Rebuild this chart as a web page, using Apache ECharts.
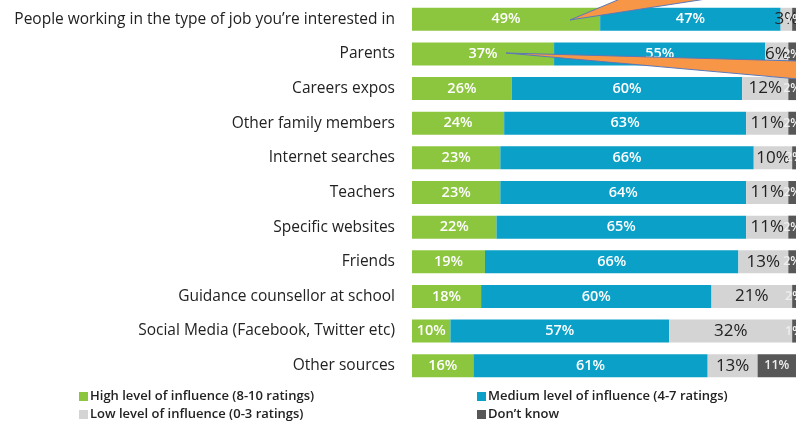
<!DOCTYPE html>
<html>
<head>
<meta charset="utf-8">
<script src="https://cdn.jsdelivr.net/npm/echarts@6/dist/echarts.min.js"></script>
<style>
  html, body { margin: 0; padding: 0; background: #fff; }
  #chart { width: 796px; height: 422px; }
</style>
</head>
<body>
<div id="chart"></div>
<script>
// Sources of influence on career choices, top row first
const categories = [
  'People working in the type of job you\u2019re interested in',
  'Parents',
  'Careers expos',
  'Other family members',
  'Internet searches',
  'Teachers',
  'Specific websites',
  'Friends',
  'Guidance counsellor at school',
  'Social Media (Facebook, Twitter etc)',
  'Other sources'
];

const seriesNames = [
  'High level of influence (8-10 ratings)',
  'Medium level of influence (4-7 ratings)',
  'Low level of influence (0-3 ratings)',
  'Don\u2019t know'
];

// Percentages per category, same order as categories
const highInfluence   = [49, 37, 26, 24, 23, 23, 22, 19, 18, 10, 16];
const mediumInfluence = [47, 55, 60, 63, 66, 64, 65, 66, 60, 57, 61];
const lowInfluence    = [3, 6, 12, 11, 10, 11, 11, 13, 21, 32, 13];
const dontKnow        = [1, 2, 2, 2, 2, 2, 2, 2, 2, 1, 11];

const FONT = '"Open Sans", "Noto Sans", sans-serif';

const chart = echarts.init(document.getElementById('chart'));

function stackSeries(name, data, color, label) {
  return {
    name: name,
    type: 'bar',
    stack: 'total',
    barWidth: 23,
    data: data,
    itemStyle: { color: color },
    label: Object.assign({
      show: true,
      position: 'inside',
      formatter: p => p.value + '%',
      fontFamily: FONT
    }, label),
    emphasis: { disabled: true },
    animation: false
  };
}

// One legend block per entry, laid out as a 2 x 2 grid
function legendItem(name, left, top) {
  return {
    data: [name],
    left: left,
    top: top,
    itemWidth: 9,
    itemHeight: 9,
    icon: 'rect',
    selectedMode: false,
    textStyle: { color: '#222', fontSize: 13, fontWeight: 600, fontFamily: FONT, padding: [0, 0, 0, -3] }
  };
}

chart.setOption({
  animation: false,
  grid: { left: 412, top: 2, width: 386, height: 381, containLabel: false },
  xAxis: {
    type: 'value',
    min: 0,
    max: 100,
    show: false
  },
  yAxis: {
    type: 'category',
    data: categories,
    inverse: true,
    axisLine: { show: false },
    axisTick: { show: false },
    axisLabel: {
      margin: 17,
      color: '#222',
      fontSize: 15.5,
      fontFamily: FONT
    }
  },
  legend: [
    legendItem(seriesNames[0], 74, 385),
    legendItem(seriesNames[2], 74, 403),
    legendItem(seriesNames[1], 472, 385),
    legendItem(seriesNames[3], 472, 403)
  ],
  series: [
    stackSeries(seriesNames[0], highInfluence, '#8cc63f',
      { color: '#fff', fontSize: 14.5, fontWeight: 600 }),
    stackSeries(seriesNames[1], mediumInfluence, '#0aa0c8',
      { color: '#fff', fontSize: 14.5, fontWeight: 600 }),
    stackSeries(seriesNames[2], lowInfluence, '#d4d4d4',
      { color: '#222', fontSize: 17 }),
    stackSeries(seriesNames[3], dontKnow, '#575757',
      { color: '#eee', fontSize: 12.5, fontWeight: 600 })
  ],
  graphic: [
    // Orange callout wedges pointing at the top two rows
    {
      type: 'polygon',
      z: 100,
      shape: { points: [[570, 20], [620, -1], [706, -1]] },
      style: { fill: '#f79646', stroke: '#5b78b8', lineWidth: 1 }
    },
    {
      type: 'polygon',
      z: 100,
      shape: { points: [[506, 53], [798, 61], [798, 79]] },
      style: { fill: '#f79646', stroke: '#5b78b8', lineWidth: 1 }
    }
  ]
});
</script>
</body>
</html>
